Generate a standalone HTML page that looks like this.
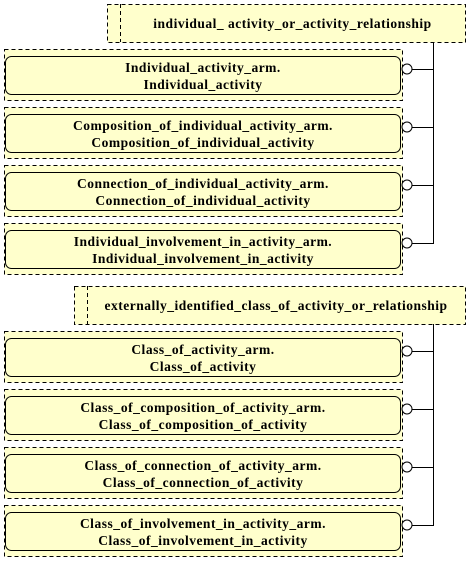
<!DOCTYPE html>
<html><head><meta charset="utf-8"><style>
body{margin:0;background:#fff;}
text{font-family:'Liberation Serif','DejaVu Serif',serif !important;font-weight:bold;font-size:13.5px;letter-spacing:0.5px;fill:#000;text-anchor:middle;}
</style></head><body>
<svg width="473" height="559" xmlns="http://www.w3.org/2000/svg">
<g id="g"></g>
</svg>
<script>
const groups=[
 {title:"individual_ activity_or_activity_relationship",selX:107,innerX:120,y:4,items:[
  ["Individual_activity_arm.","Individual_activity"],
  ["Composition_of_individual_activity_arm.","Composition_of_individual_activity"],
  ["Connection_of_individual_activity_arm.","Connection_of_individual_activity"],
  ["Individual_involvement_in_activity_arm.","Individual_involvement_in_activity"]]},
 {title:"externally_identified_class_of_activity_or_relationship",selX:74,innerX:87,y:286,items:[
  ["Class_of_activity_arm.","Class_of_activity"],
  ["Class_of_composition_of_activity_arm.","Class_of_composition_of_activity"],
  ["Class_of_connection_of_activity_arm.","Class_of_connection_of_activity"],
  ["Class_of_involvement_in_activity_arm.","Class_of_involvement_in_activity"]]}
];
const g=document.getElementById('g');
const NS="http://www.w3.org/2000/svg";
function mk(t,a,p){const e=document.createElementNS(NS,t);for(const k in a)e.setAttribute(k,a[k]);(p||g).appendChild(e);return e;}
const F={'font-family':'Liberation Serif, serif','font-weight':'bold','font-size':'13.5'};
groups.forEach((gr,gi)=>{
 const sel=mk('g',{});
 
 
 mk('rect',{x:gr.selX+0.5,y:gr.y+0.5,width:465-gr.selX,height:38,fill:'#ffffcc',stroke:'#000','stroke-dasharray':'4,3'},sel);
 mk('line',{x1:gr.innerX+0.5,y1:gr.y,x2:gr.innerX+0.5,y2:gr.y+38,stroke:'#000','stroke-dasharray':'4,3'},sel);
 const t=mk('text',Object.assign({x:(gr.innerX+465)/2,y:gr.y+24},F),sel);t.textContent=gr.title;
 const top=gr.y+45;
 let lastY=0;
 gr.items.forEach((it,i)=>{
  const y=top+i*58;
  const b=mk('g',{});
  
  
  mk('rect',{x:4.5,y:y+0.5,width:398,height:51,fill:'#ffffcc',stroke:'#000','stroke-dasharray':'4,3'},b);
  mk('rect',{x:5.5,y:y+7.5,width:395,height:38,rx:6,fill:'#ffffcc',stroke:'#000'},b);
  const t1=mk('text',Object.assign({x:203,y:y+23},F),b);t1.textContent=it[0];
  const t2=mk('text',Object.assign({x:203,y:y+40},F),b);t2.textContent=it[1];
  const cy=y+20;
  mk('circle',{cx:407,cy:cy,r:5,fill:'#fff',stroke:'#000'},b);
  mk('line',{x1:412,y1:cy+0.5,x2:433,y2:cy+0.5,stroke:'#000'},b);
  lastY=cy;
 });
 mk('line',{x1:433.5,y1:gr.y+38,x2:433.5,y2:lastY+1,stroke:'#000'});
});
</script>
</body></html>
